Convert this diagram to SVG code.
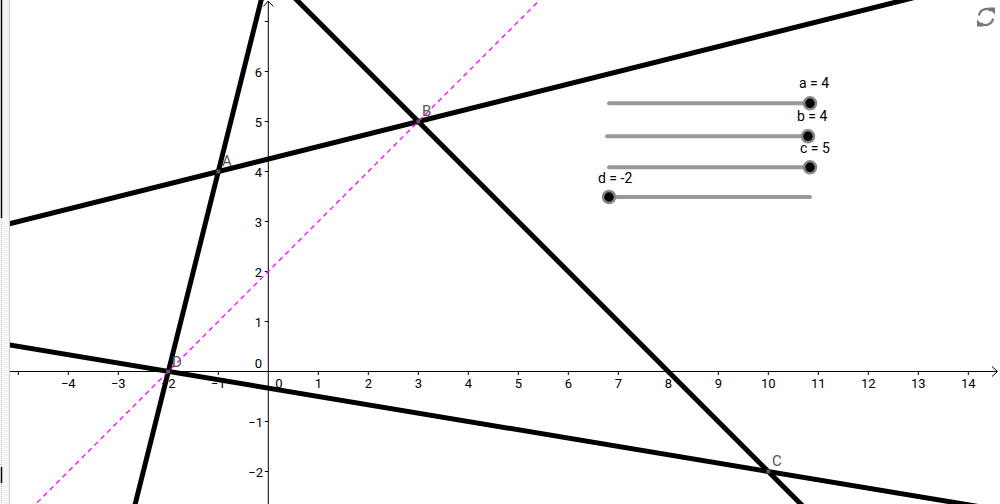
<svg xmlns="http://www.w3.org/2000/svg" width="1000" height="504" viewBox="0 0 1000 504">
<style>
.ax{stroke:#000;stroke-width:1;fill:none}
.tk{stroke:#000;stroke-width:1}
.lbl{font-family:"Roboto","Liberation Sans",sans-serif;font-size:13px;fill:#000}
.xl{text-anchor:middle}
.yl{text-anchor:end}
.ln{stroke:#000;stroke-width:5;fill:none}
.pt{fill:#555}
.plbl{font-family:"Roboto","Liberation Sans",sans-serif;font-size:15px;fill:#555}
.sl{stroke:#999;stroke-width:4;stroke-linecap:round}
.knob{fill:#000;stroke:#888;stroke-width:2.5}
.slbl{font-family:"Roboto","Liberation Sans",sans-serif;font-size:14px;fill:#000}
</style>
<defs>
<clipPath id="view"><rect x="10" y="0" width="990" height="504"/></clipPath>
</defs>
<rect width="1000" height="504" fill="#fff"/>
<!-- left border -->
<rect x="3" y="0" width="6" height="504" fill="#f5f5f5"/>
<line x1="9.5" y1="0" x2="9.5" y2="504" stroke="#ccc" stroke-width="1"/>
<line x1="1.5" y1="0" x2="1.5" y2="218" stroke="#000" stroke-width="1.5"/>
<line x1="1.5" y1="218" x2="1.5" y2="504" stroke="#bbb" stroke-width="1.5" stroke-dasharray="1,1"/>
<line x1="1.5" y1="467" x2="1.5" y2="483" stroke="#000" stroke-width="1.5"/>
<g id="axes" clip-path="url(#view)">
<line class="ax" x1="10" y1="371.5" x2="997" y2="371.5"/>
<polyline class="ax" points="992,366.5 997.5,371.5 992,376.5"/>
<line class="ax" x1="268.3" y1="504" x2="268.3" y2="1"/>
<polyline class="ax" points="263.3,6.5 268.3,1 273.3,6.5"/>
<g class="tk">
<line x1="18.3" y1="371.5" x2="18.3" y2="375"/>
<line x1="68.3" y1="371.5" x2="68.3" y2="375"/>
<line x1="118.3" y1="371.5" x2="118.3" y2="375"/>
<line x1="168.3" y1="371.5" x2="168.3" y2="375"/>
<line x1="218.3" y1="371.5" x2="218.3" y2="375"/>
<line x1="318.3" y1="371.5" x2="318.3" y2="375"/>
<line x1="368.3" y1="371.5" x2="368.3" y2="375"/>
<line x1="418.3" y1="371.5" x2="418.3" y2="375"/>
<line x1="468.3" y1="371.5" x2="468.3" y2="375"/>
<line x1="518.3" y1="371.5" x2="518.3" y2="375"/>
<line x1="568.3" y1="371.5" x2="568.3" y2="375"/>
<line x1="618.3" y1="371.5" x2="618.3" y2="375"/>
<line x1="668.3" y1="371.5" x2="668.3" y2="375"/>
<line x1="718.3" y1="371.5" x2="718.3" y2="375"/>
<line x1="768.3" y1="371.5" x2="768.3" y2="375"/>
<line x1="818.3" y1="371.5" x2="818.3" y2="375"/>
<line x1="868.3" y1="371.5" x2="868.3" y2="375"/>
<line x1="918.3" y1="371.5" x2="918.3" y2="375"/>
<line x1="968.3" y1="371.5" x2="968.3" y2="375"/>
<line x1="264.8" y1="21.5" x2="268.3" y2="21.5"/>
<line x1="264.8" y1="71.5" x2="268.3" y2="71.5"/>
<line x1="264.8" y1="121.5" x2="268.3" y2="121.5"/>
<line x1="264.8" y1="171.5" x2="268.3" y2="171.5"/>
<line x1="264.8" y1="221.5" x2="268.3" y2="221.5"/>
<line x1="264.8" y1="271.5" x2="268.3" y2="271.5"/>
<line x1="264.8" y1="321.5" x2="268.3" y2="321.5"/>
<line x1="264.8" y1="421.5" x2="268.3" y2="421.5"/>
<line x1="264.8" y1="471.5" x2="268.3" y2="471.5"/>
</g>
<g class="lbl xl">
<text x="68.3" y="388">−4</text>
<text x="118.3" y="388">−3</text>
<text x="168.3" y="388">−2</text>
<text x="218.3" y="388">−1</text>
<text x="279" y="388">0</text>
<text x="318.3" y="388">1</text>
<text x="368.3" y="388">2</text>
<text x="418.3" y="388">3</text>
<text x="468.3" y="388">4</text>
<text x="518.3" y="388">5</text>
<text x="568.3" y="388">6</text>
<text x="618.3" y="388">7</text>
<text x="668.3" y="388">8</text>
<text x="718.3" y="388">9</text>
<text x="768.3" y="388">10</text>
<text x="818.3" y="388">11</text>
<text x="868.3" y="388">12</text>
<text x="918.3" y="388">13</text>
<text x="968.3" y="388">14</text>
</g>
<g class="lbl yl">
<text x="262" y="76.5">6</text>
<text x="262" y="126.5">5</text>
<text x="262" y="176.5">4</text>
<text x="262" y="226.5">3</text>
<text x="262" y="276.5">2</text>
<text x="262" y="326.5">1</text>
<text x="262" y="367.5">0</text>
<text x="263" y="426.5">−1</text>
<text x="263" y="476.5">−2</text>
</g>
</g>
<g id="connectors" clip-path="url(#view)">
<line class="ln" x1="0" y1="226.1" x2="1000" y2="-23.9"/>
<line class="ln" x1="263.7" y1="-10" x2="132.7" y2="514"/>
<line class="ln" x1="286.8" y1="-10" x2="810.8" y2="514"/>
<line class="ln" x1="0" y1="343.4" x2="1000" y2="510.1"/>
<line x1="549.8" y1="-10" x2="25.8" y2="514" stroke="#ff00ff" stroke-width="1.3" stroke-dasharray="5,4"/>
</g>
<g id="A"><rect class="pt" x="216.3" y="169.5" width="4" height="4"/><text class="plbl" x="222" y="166">A</text></g>
<g id="B"><rect class="pt" x="416.3" y="119.5" width="4" height="4"/><text class="plbl" x="422" y="116">B</text></g>
<g id="C"><rect class="pt" x="766.3" y="469.5" width="4" height="4"/><text class="plbl" x="772" y="466">C</text></g>
<g id="D"><rect class="pt" x="166.3" y="369.5" width="4" height="4"/><text class="plbl" x="172" y="367">D</text></g>
<g id="slider-a"><line class="sl" x1="609" y1="103.3" x2="810" y2="103.3"/><circle class="knob" cx="810" cy="103.3" r="6"/><text class="slbl" x="799" y="88">a = 4</text></g>
<g id="slider-b"><line class="sl" x1="607" y1="136.3" x2="808" y2="136.3"/><circle class="knob" cx="808" cy="136.3" r="6"/><text class="slbl" x="797" y="121">b = 4</text></g>
<g id="slider-c"><line class="sl" x1="609" y1="167.3" x2="810" y2="167.3"/><circle class="knob" cx="810" cy="167.3" r="6"/><text class="slbl" x="800" y="153">c = 5</text></g>
<g id="slider-d"><line class="sl" x1="609" y1="197" x2="810" y2="197"/><circle class="knob" cx="609" cy="197" r="6"/><text class="slbl" x="598" y="183">d = -2</text></g>
<g id="reset" stroke="#777" stroke-width="2.2" fill="none">
<path d="M979,15.5 A7.5,7.5 0 0 1 991.5,11"/>
<path d="M993,18.5 A7.5,7.5 0 0 1 980.5,23"/>
<polygon points="988,7.5 995,7.5 995,14.5" fill="#777" stroke="none"/>
<polygon points="984,26.5 977,26.5 977,19.5" fill="#777" stroke="none"/>
</g>
</svg>
